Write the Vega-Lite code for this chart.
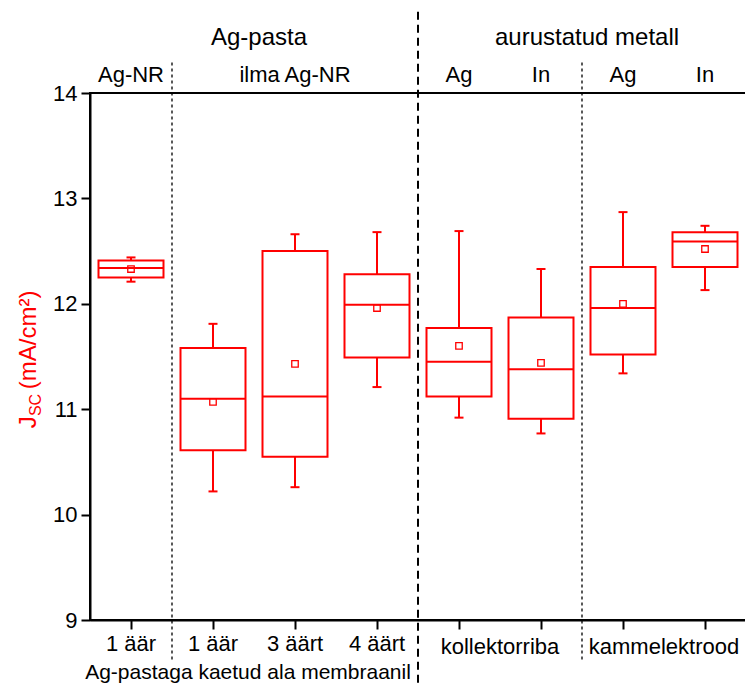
{
  "$schema": "https://vega.github.io/schema/vega-lite/v6.json",
  "width": 656,
  "height": 527,
  "autosize": {"type": "none"},
  "padding": {"left": 90, "top": 93, "right": 0, "bottom": 64},
  "background": "white",
  "config": {
    "font": "Liberation Sans",
    "view": {"stroke": "black", "strokeWidth": 2},
    "axis": {"domainColor": "black", "tickColor": "black", "labelColor": "black", "grid": false}
  },
  "datasets": {
    "boxes": [
      {"id": "a1", "min": 12.21, "q1": 12.25, "med": 12.34, "q3": 12.41, "max": 12.44, "mean": 12.33},
      {"id": "b1", "min": 10.22, "q1": 10.61, "med": 11.10, "q3": 11.58, "max": 11.81, "mean": 11.07},
      {"id": "b3", "min": 10.26, "q1": 10.55, "med": 11.12, "q3": 12.50, "max": 12.66, "mean": 11.43},
      {"id": "b4", "min": 11.21, "q1": 11.49, "med": 11.99, "q3": 12.28, "max": 12.68, "mean": 11.96},
      {"id": "c1", "min": 10.92, "q1": 11.12, "med": 11.45, "q3": 11.77, "max": 12.69, "mean": 11.60},
      {"id": "c2", "min": 10.77, "q1": 10.91, "med": 11.38, "q3": 11.87, "max": 12.33, "mean": 11.44},
      {"id": "d1", "min": 11.34, "q1": 11.52, "med": 11.96, "q3": 12.35, "max": 12.87, "mean": 12.00},
      {"id": "d2", "min": 12.13, "q1": 12.35, "med": 12.59, "q3": 12.68, "max": 12.74, "mean": 12.52}
    ],
    "dotted": [{"id": "b1"}, {"id": "d1"}],
    "dashed": [{"id": "c1"}],
    "sub": [
      {"id": "a1", "t": "Ag-NR"},
      {"id": "b3", "t": "ilma Ag-NR"},
      {"id": "c1", "t": "Ag"},
      {"id": "c2", "t": "In"},
      {"id": "d1", "t": "Ag"},
      {"id": "d2", "t": "In"}
    ],
    "group": [{"id": "b1", "t": "Ag-pasta"}, {"id": "c2", "t": "aurustatud metall"}],
    "bottom": [{"id": "c1", "t": "kollektorriba"}, {"id": "d1", "t": "kammelektrood"}],
    "bottom2": [{"id": "b1", "t": "Ag-pastaga kaetud ala membraanil"}],
    "tJ": [{"id": "a1", "t": "J"}],
    "tSC": [{"id": "a1", "t": "SC"}],
    "tUnit": [{"id": "a1", "t": "(mA/cm²)"}]
  },
  "layer": [
    {
      "data": {"name": "boxes"},
      "mark": {"type": "rule", "color": "red", "strokeWidth": 2},
      "encoding": {
        "x": {"field": "id", "type": "nominal", "sort": null,
          "scale": {"type": "band", "domain": ["a1", "b1", "b3", "b4", "c1", "c2", "d1", "d2"], "paddingInner": 0, "paddingOuter": 0},
          "axis": {
            "title": null, "labelAngle": 0,
            "labelExpr": "['1 äär','1 äär','3 äärt','4 äärt','','','',''][indexof(['a1','b1','b3','b4','c1','c2','d1','d2'], datum.value)]",
            "labelFontSize": 22, "labelPadding": 4, "tickSize": 9, "tickWidth": 2, "domainWidth": 2
          }},
        "y": {"field": "min", "type": "quantitative",
          "scale": {"domain": [9, 14], "nice": false, "zero": false},
          "axis": {
            "title": null,
            "format": "d",
            "values": [9, 9.5, 10, 10.5, 11, 11.5, 12, 12.5, 13, 13.5, 14],
            "labelExpr": "datum.value % 1 === 0 ? datum.label : ''",
            "tickSize": {"condition": {"test": "datum.value % 1 !== 0", "value": 5}, "value": 9},
            "tickWidth": 2, "domainWidth": 2, "labelFontSize": 22, "labelPadding": 4
          }},
        "y2": {"field": "max"}
      }
    },
    {
      "data": {"name": "boxes"},
      "mark": {"type": "bar", "fill": "white", "stroke": "red", "strokeWidth": 2, "width": 65},
      "encoding": {
        "x": {"field": "id", "type": "nominal", "sort": null},
        "y": {"field": "q1", "type": "quantitative"},
        "y2": {"field": "q3"}
      }
    },
    {
      "data": {"name": "boxes"},
      "mark": {"type": "tick", "color": "red", "orient": "horizontal", "size": 65, "thickness": 2, "opacity": 1},
      "encoding": {
        "x": {"field": "id", "type": "nominal", "sort": null},
        "y": {"field": "med", "type": "quantitative"}
      }
    },
    {
      "data": {"name": "boxes"},
      "mark": {"type": "tick", "color": "red", "orient": "horizontal", "size": 9, "thickness": 2, "opacity": 1},
      "encoding": {
        "x": {"field": "id", "type": "nominal", "sort": null},
        "y": {"field": "min", "type": "quantitative"}
      }
    },
    {
      "data": {"name": "boxes"},
      "mark": {"type": "tick", "color": "red", "orient": "horizontal", "size": 9, "thickness": 2, "opacity": 1},
      "encoding": {
        "x": {"field": "id", "type": "nominal", "sort": null},
        "y": {"field": "max", "type": "quantitative"}
      }
    },
    {
      "data": {"name": "boxes"},
      "mark": {"type": "point", "shape": "square", "filled": false, "size": 42, "color": "red", "strokeWidth": 1.3, "opacity": 1},
      "encoding": {
        "x": {"field": "id", "type": "nominal", "sort": null},
        "y": {"field": "mean", "type": "quantitative"}
      }
    },
    {
      "data": {"name": "dotted"},
      "mark": {"type": "rule", "color": "black", "strokeWidth": 1.3, "strokeDash": [3, 3]},
      "encoding": {
        "x": {"field": "id", "type": "nominal", "sort": null, "bandPosition": 0},
        "y": {"datum": 14.29},
        "y2": {"datum": 8.62}
      }
    },
    {
      "data": {"name": "dashed"},
      "mark": {"type": "rule", "color": "black", "strokeWidth": 2, "strokeDash": [8, 5]},
      "encoding": {
        "x": {"field": "id", "type": "nominal", "sort": null, "bandPosition": 0},
        "y": {"datum": 14.77},
        "y2": {"datum": 8.3}
      }
    },
    {
      "data": {"name": "sub"},
      "mark": {"type": "text", "fontSize": 22, "color": "black", "baseline": "middle", "align": "center"},
      "encoding": {
        "x": {"field": "id", "type": "nominal", "sort": null},
        "y": {"datum": 14.17},
        "text": {"field": "t"}
      }
    },
    {
      "data": {"name": "group"},
      "mark": {"type": "text", "fontSize": 24, "color": "black", "baseline": "middle", "align": "center", "dx": 5},
      "encoding": {
        "x": {"field": "id", "type": "nominal", "sort": null, "bandPosition": 1},
        "y": {"datum": 14.52},
        "text": {"field": "t"}
      }
    },
    {
      "data": {"name": "bottom"},
      "mark": {"type": "text", "fontSize": 22, "color": "black", "baseline": "middle", "align": "center"},
      "encoding": {
        "x": {"field": "id", "type": "nominal", "sort": null, "bandPosition": 1},
        "y": {"datum": 8.74},
        "text": {"field": "t"}
      }
    },
    {
      "data": {"name": "bottom2"},
      "mark": {"type": "text", "fontSize": 21, "color": "black", "baseline": "middle", "align": "center", "dx": -6},
      "encoding": {
        "x": {"field": "id", "type": "nominal", "sort": null, "bandPosition": 1},
        "y": {"datum": 8.5},
        "text": {"field": "t"}
      }
    },
    {
      "data": {"name": "tJ"},
      "mark": {"type": "text", "fontSize": 24, "color": "red", "baseline": "alphabetic", "align": "left", "angle": 270, "dy": -54},
      "encoding": {
        "x": {"field": "id", "type": "nominal", "sort": null, "bandPosition": 0},
        "y": {"datum": 10.82},
        "text": {"field": "t"}
      }
    },
    {
      "data": {"name": "tSC"},
      "mark": {"type": "text", "fontSize": 16, "color": "red", "baseline": "alphabetic", "align": "left", "angle": 270, "dy": -49},
      "encoding": {
        "x": {"field": "id", "type": "nominal", "sort": null, "bandPosition": 0},
        "y": {"datum": 10.935},
        "text": {"field": "t"}
      }
    },
    {
      "data": {"name": "tUnit"},
      "mark": {"type": "text", "fontSize": 24, "color": "red", "baseline": "alphabetic", "align": "left", "angle": 270, "dy": -54},
      "encoding": {
        "x": {"field": "id", "type": "nominal", "sort": null, "bandPosition": 0},
        "y": {"datum": 11.19},
        "text": {"field": "t"}
      }
    }
  ]
}
